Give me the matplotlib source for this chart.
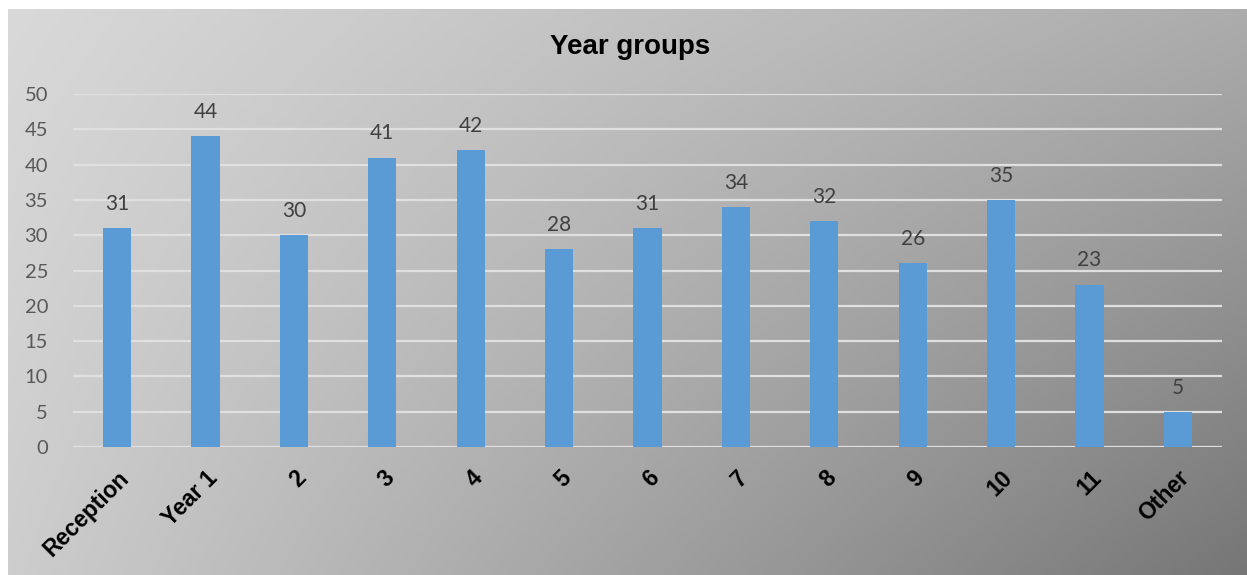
import numpy as np
import matplotlib.pyplot as plt

# data
categories = ['Reception', 'Year 1', '2', '3', '4', '5', '6', '7', '8', '9', '10', '11', 'Other']
counts = [31, 44, 30, 41, 42, 28, 31, 34, 32, 26, 35, 23, 5]
yticks = [0, 5, 10, 15, 20, 25, 30, 35, 40, 45, 50]

W, H = 1247, 575
fig = plt.figure(figsize=(W / 100, H / 100), dpi=100)
fig.patch.set_facecolor('white')

# gradient background of the chart box
bg = fig.add_axes([8 / W, 0, 1 - 8 / W, 1 - 9 / H])
bg.set_axis_off()
gx, gy = np.meshgrid(np.linspace(0, 1, 300), np.linspace(0, 1, 150))
v = (217 - 45 * gx - 12 * gy - 42 * gx * gy) / 255
bg.imshow(np.dstack([v, v, v]), aspect='auto', extent=(0, 1, 1, 0))
bg.set_xlim(0, 1)
bg.set_ylim(1, 0)

# plot area
ax = fig.add_axes([73 / W, 1 - 447 / H, (1222 - 73) / W, (447 - 94) / H])
ax.patch.set_alpha(0)
x = np.arange(len(categories))
ax.bar(x, counts, width=0.32, color='#5B9BD5', zorder=3)
for xi, c in zip(x, counts):
    ax.text(xi, c + 2.0, str(c), ha='center', va='bottom', fontsize=15,
            family='Lato', color='#404040')

ax.set_xlim(-0.5, len(categories) - 0.5)
ax.set_ylim(0, 50)
ax.set_yticks(yticks)
ax.yaxis.grid(True, color='#E0E0E0', linewidth=1.6, zorder=0)
ax.set_axisbelow(True)
for s in ax.spines.values():
    s.set_visible(False)
ax.tick_params(length=0)
ax.tick_params(axis='y', pad=18, labelsize=14.5, labelcolor='#595959')
for lbl in ax.get_yticklabels():
    lbl.set_family('Lato')
ax.set_xticks(x)
ax.set_xticklabels(categories, rotation=45, ha='right', rotation_mode='anchor',
                   fontsize=16.5, fontweight='bold', family='Liberation Sans')
ax.tick_params(axis='x', pad=14)

fig.text(630 / W, 1 - 47 / H, 'Year groups', ha='center', va='center',
         fontsize=20, fontweight='bold', family='Liberation Sans')

fig.savefig('out.png', dpi=100)
